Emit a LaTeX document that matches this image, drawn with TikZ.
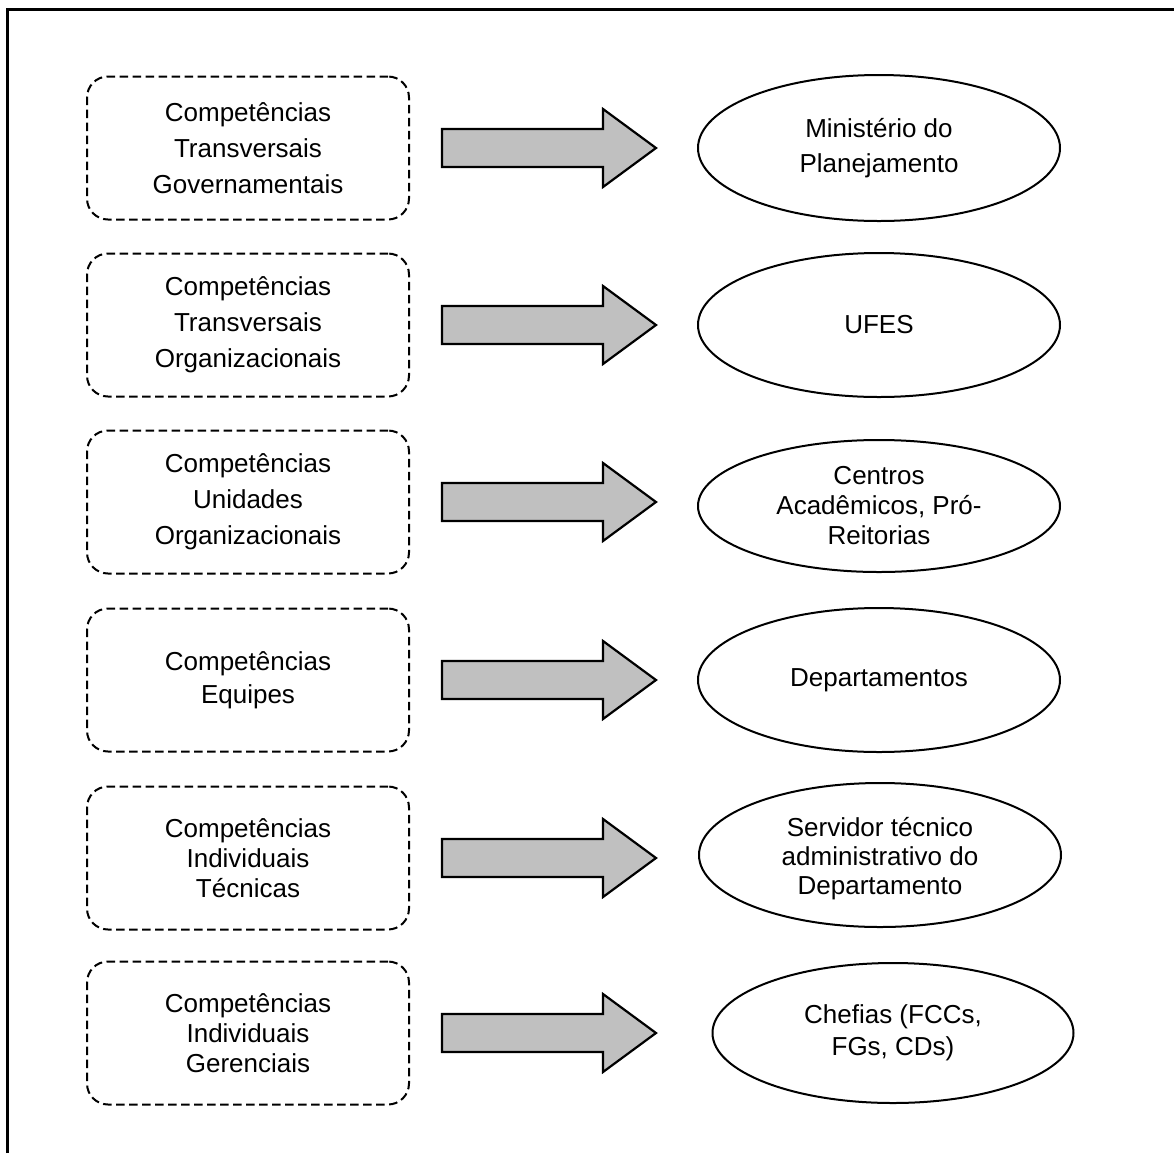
\documentclass[tikz,border=0pt]{standalone}
\usepackage{fontspec}
\setmainfont{Liberation Sans}
\usetikzlibrary{shapes.geometric}
\definecolor{arrowgray}{RGB}{192,192,192}
\begin{document}
\begin{tikzpicture}[x=0.5pt,y=-0.5pt,
  compbox/.style={draw, line width=1pt, dash pattern=on 4.25pt off 2.25pt,
    rounded corners=10.5pt, minimum width=161pt, minimum height=71.5pt,
    inner sep=0pt, align=center, font=\fontsize{13}{#1}\selectfont},
  compbox/.default=18,
  unit/.style={ellipse, draw, line width=1pt, inner sep=0pt, align=center,
    minimum width=181pt, minimum height=72pt, font=\fontsize{13}{#1}\selectfont},
  unit/.default=18,
  bigarrow/.pic={\draw[line width=1.1pt, fill=arrowgray, line join=miter]
    (0,-19) -- (161,-19) -- (161,-39) -- (214,0) -- (161,39) -- (161,19) -- (0,19) -- cycle;}
]
\useasboundingbox (0,0) rectangle (1174,1153);

% outer frame (top and left edges)
\draw[line width=1.35pt] (7.5,1153) -- (7.5,9.5) -- (1174,9.5);

% competence levels
\node[compbox] (b1) at (248,148) {Competências\\Transversais\\Governamentais};
\node[compbox] (b2) at (248,325) {Competências\\Transversais\\Organizacionais};
\node[compbox] (b3) at (248,502) {Competências\\Unidades\\Organizacionais};
\node[compbox=16.5] (b4) at (248,680) {Competências\\Equipes};
\node[compbox=15] (b5) at (248,858) {Competências\\Individuais\\Técnicas};
\node[compbox=15] (b6) at (248,1033) {Competências\\Individuais\\Gerenciais};

% organisational units
\node[unit=17.5, minimum height=73pt] (e1) at (879,148) {Ministério do\\Planejamento};
\node[unit] (e2) at (879,325) {UFES};
\node[unit=15, minimum height=66pt] (e3) at (879,506) {Centros\\Acadêmicos, Pró-\\Reitorias};
\node[unit] (e4) at (879,680) {Departamentos};
\node[unit] (e5) at (880,855) {};
\begin{scope}
  \clip (700,785) rectangle (1060,899);
  \node[font=\fontsize{13}{14.5}\selectfont, align=center, inner sep=0pt, yshift=-2pt] (t5) at (e5) {Servidor técnico\\administrativo do\\Departamento};
\end{scope}
\node[unit=16, minimum width=180.5pt, minimum height=70pt] (e6) at (893,1033) {Chefias (FCCs,\\FGs, CDs)};

% block arrows
\foreach \b in {b1,b2,b3,b4,b5,b6}
  \pic at ([xshift=16pt]\b.east) {bigarrow};
\end{tikzpicture}
\end{document}
